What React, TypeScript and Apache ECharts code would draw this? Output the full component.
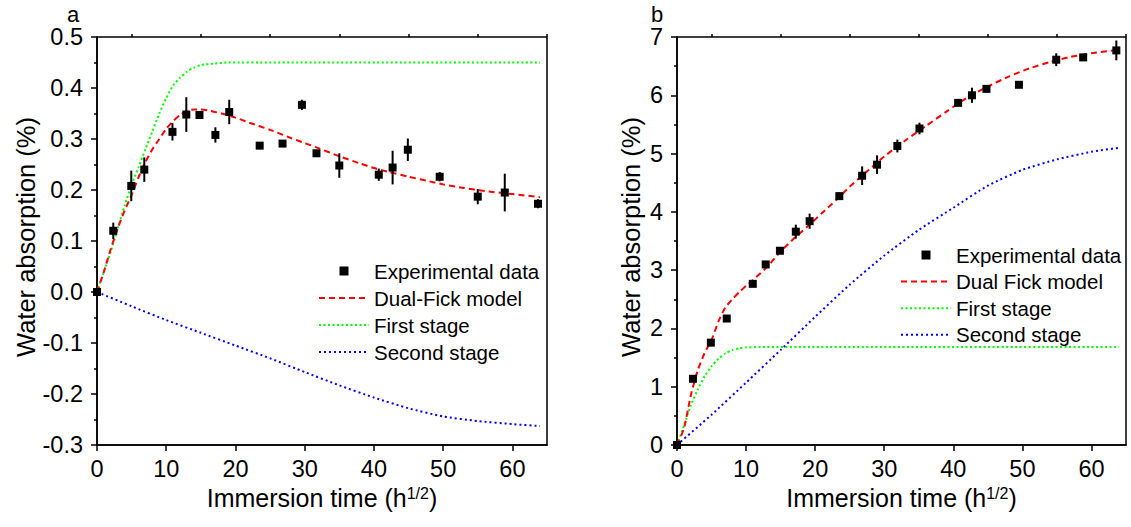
import React, { useEffect, useRef } from 'react';
import * as echarts from 'echarts';

const FONT = 'Arial, "Liberation Sans", Helvetica, sans-serif';

// Panel a: experimental data (x = sqrt(h), y = %, e = error half-width)
const xA = [0, 2.35, 4.95, 6.83, 10.9, 12.9, 14.8, 17.1, 19.1, 23.5, 26.8, 29.6, 31.7, 35.0, 40.7, 42.7, 44.9, 49.5, 55.0, 58.9, 63.7];
const yA = [0, 0.12, 0.208, 0.24, 0.314, 0.348, 0.347, 0.308, 0.353, 0.287, 0.291, 0.367, 0.272, 0.248, 0.23, 0.244, 0.279, 0.226, 0.187, 0.195, 0.173];
const eA = [0, 0.016, 0.03, 0.024, 0.017, 0.034, 0.004, 0.015, 0.024, 0.003, 0.003, 0.01, 0.003, 0.024, 0.012, 0.033, 0.022, 0.009, 0.015, 0.037, 0.009];

// Panel a: model curves
const dualFickA = [[0, 0], [1, 0.04], [2, 0.085], [3, 0.125], [4, 0.16], [5, 0.19], [6, 0.225], [7, 0.255], [8, 0.28], [9, 0.3], [10, 0.32], [11, 0.335], [12, 0.347], [13, 0.355], [14, 0.358], [15, 0.358], [16, 0.356], [18, 0.35], [20, 0.342], [22, 0.332], [25, 0.318], [28, 0.302], [30, 0.292], [32, 0.282], [35, 0.266], [38, 0.252], [40, 0.243], [42, 0.236], [45, 0.226], [48, 0.217], [50, 0.211], [53, 0.204], [56, 0.198], [60, 0.192], [64, 0.186]];
const firstA = [[0, 0], [1, 0.04], [2, 0.08], [3, 0.125], [4, 0.17], [5, 0.21], [6, 0.245], [7, 0.28], [8, 0.315], [9, 0.35], [10, 0.38], [11, 0.405], [12, 0.42], [13, 0.432], [14, 0.44], [15, 0.445], [17, 0.448], [19, 0.45], [25, 0.45], [64, 0.45]];
const secondA = [[0, 0], [5, -0.028], [10, -0.055], [15, -0.08], [20, -0.105], [25, -0.13], [30, -0.157], [35, -0.183], [40, -0.207], [45, -0.228], [50, -0.244], [55, -0.253], [60, -0.259], [64, -0.263]];

// Panel b: experimental data
const xB = [0, 2.31, 4.9, 7.2, 10.97, 12.84, 14.9, 17.2, 19.2, 23.5, 26.8, 28.96, 31.9, 35.1, 40.7, 42.7, 44.8, 49.5, 54.9, 58.8, 63.6];
const yB = [0, 1.136, 1.756, 2.17, 2.765, 3.098, 3.333, 3.66, 3.84, 4.27, 4.62, 4.81, 5.13, 5.43, 5.87, 6.0, 6.11, 6.18, 6.61, 6.65, 6.77];
const eB = [0, 0.03, 0.04, 0.04, 0.05, 0.03, 0.03, 0.12, 0.13, 0.06, 0.16, 0.16, 0.11, 0.1, 0.05, 0.13, 0.05, 0.02, 0.11, 0.03, 0.17];

// Panel b: model curves
const dualFickB = [[0, 0], [1, 0.28], [2, 0.85], [3, 1.28], [4, 1.58], [5, 1.8], [6, 2.12], [7, 2.36], [8, 2.5], [9, 2.62], [10, 2.73], [11, 2.83], [13, 3.05], [15, 3.32], [17, 3.55], [19, 3.76], [21, 3.98], [23, 4.2], [25, 4.43], [27, 4.64], [30, 4.95], [33, 5.22], [36, 5.47], [39, 5.72], [42, 5.96], [45, 6.15], [48, 6.32], [51, 6.46], [54, 6.57], [57, 6.66], [60, 6.72], [64, 6.78]];
const firstB = [[0, 0], [1, 0.33], [2, 0.68], [3, 0.95], [4, 1.18], [5, 1.35], [6, 1.48], [7, 1.57], [8, 1.63], [9, 1.66], [10, 1.675], [12, 1.68], [64, 1.68]];
const secondB = [[0, 0], [5, 0.52], [10, 1.07], [15, 1.63], [20, 2.2], [25, 2.75], [30, 3.25], [35, 3.69], [40, 4.07], [45, 4.45], [50, 4.72], [55, 4.9], [60, 5.03], [64, 5.1]];

// Ticks
const xMajorTicks = [0, 10, 20, 30, 40, 50, 60];
const xMinorTicks = [5, 15, 25, 35, 45, 55, 65];

const legendA = ['Experimental data', 'Dual-Fick model', 'First stage', 'Second stage'];
const legendB = ['Experimental data', 'Dual Fick model', 'First stage', 'Second stage'];

const SQUARE = 'path://M0 0H10V10H0Z';

function zip2(xs: number[], ys: number[]) {
  return xs.map((x, i) => [x, ys[i]]);
}
function zip3(xs: number[], ys: number[], es: number[]) {
  return xs.map((x, i) => [x, ys[i], es[i]]);
}

const axisLineStyle = { color: '#000', width: 1.5 };

function xMain(gridIndex: number) {
  return {
    type: 'value', gridIndex, min: 0, max: 65,
    axisLine: { show: true, onZero: false, lineStyle: axisLineStyle },
    axisTick: { show: true, inside: false, length: 6, customValues: xMajorTicks, lineStyle: axisLineStyle },
    axisLabel: { show: true, customValues: xMajorTicks, color: '#000', fontSize: 23.5, margin: 12, fontFamily: FONT },
    splitLine: { show: false },
    name: '{t|Immersion time (h}{s|1/2}{t|)}',
    nameLocation: 'middle',
    nameGap: 39,
    nameTextStyle: {
      color: '#000', fontFamily: FONT,
      rich: {
        t: { fontSize: 25, fontFamily: FONT, color: '#000', lineHeight: 25, verticalAlign: 'bottom' },
        s: { fontSize: 16, fontFamily: FONT, color: '#000', lineHeight: 16, verticalAlign: 'top', padding: [0, 0, 12, 0] },
      },
    },
  };
}
function xMinor(gridIndex: number) {
  return {
    type: 'value', gridIndex, min: 0, max: 65,
    axisLine: { show: false, onZero: false },
    axisTick: { show: true, inside: false, length: 3, customValues: xMinorTicks, lineStyle: axisLineStyle },
    axisLabel: { show: false },
    splitLine: { show: false },
  };
}
function yAxisCfg(gridIndex: number, min: number, max: number, interval: number, digits: number, gap: number) {
  return {
    type: 'value', gridIndex, min, max, interval,
    axisLine: { show: true, onZero: false, lineStyle: axisLineStyle },
    axisTick: { show: true, inside: false, length: 6, lineStyle: axisLineStyle },
    minorTick: { show: true, splitNumber: 2, length: 3, lineStyle: axisLineStyle },
    axisLabel: { color: '#000', fontSize: 23.5, margin: 14, fontFamily: FONT, formatter: (v: number) => v.toFixed(digits) },
    splitLine: { show: false },
    name: 'Water absorption (%)',
    nameLocation: 'middle',
    nameRotate: 90,
    nameGap: gap,
    nameTextStyle: { color: '#000', fontSize: 25.5, fontFamily: FONT, padding: [0, 0, 0, 8] },
  };
}

function errorSeries(name: string, xi: number, yi: number, data: number[][]) {
  return {
    type: 'custom', name, xAxisIndex: xi, yAxisIndex: yi, data, z: 4,
    encode: { x: 0, y: 1 },
    renderItem: (_p: any, api: any) => {
      const x = api.value(0), y = api.value(1), e = api.value(2);
      const t = api.coord([x, y + e]);
      const b = api.coord([x, y - e]);
      return { type: 'line', shape: { x1: t[0], y1: t[1], x2: b[0], y2: b[1] }, style: { stroke: '#000', lineWidth: 2 } };
    },
  };
}
function scatterSeries(xi: number, yi: number, data: number[][]) {
  return {
    type: 'scatter', name: 'Experimental data', xAxisIndex: xi, yAxisIndex: yi, data,
    symbol: 'rect', symbolSize: 8, itemStyle: { color: '#000', opacity: 1 }, z: 5,
  };
}
function lineSeries(name: string, xi: number, yi: number, data: number[][], color: string, dash: number[]) {
  return {
    type: 'line', name, xAxisIndex: xi, yAxisIndex: yi, data, symbol: 'none', smooth: 0.2,
    lineStyle: { color, width: 2, type: dash }, itemStyle: { color }, z: 3,
  };
}

function legendCfg(left: number, top: number, gap: number, names: string[]) {
  return {
    orient: 'vertical', left, top, padding: 0, itemWidth: 50, itemHeight: 9, itemGap: gap,
    selectedMode: false,
    textStyle: { fontSize: 20.5, color: '#000', fontFamily: FONT },
    data: names.map((n, i) => (i === 0 ? { name: n, icon: SQUARE, itemStyle: { opacity: 1 } } : { name: n, itemStyle: { opacity: 0 } })),
  };
}

const option: any = {
  animation: false,
  backgroundColor: '#fff',
  textStyle: { fontFamily: FONT },
  grid: [
    { left: 97, top: 37, width: 450, height: 408, show: true, borderColor: '#000', borderWidth: 1.5, backgroundColor: 'transparent' },
    { left: 677, top: 37, width: 449, height: 408, show: true, borderColor: '#000', borderWidth: 1.5, backgroundColor: 'transparent' },
  ],
  xAxis: [xMain(0), xMinor(0), xMain(1), xMinor(1)],
  yAxis: [yAxisCfg(0, -0.3, 0.5, 0.1, 1, 57), yAxisCfg(1, 0, 7, 1, 0, 33)],
  legend: [legendCfg(318, 260.5, 6, legendA), legendCfg(900, 244.5, 5.6, legendB)],
  graphic: [
    { type: 'text', left: 67, top: 3, style: { text: 'a', fontSize: 22, fontFamily: FONT, fill: '#000' } },
    { type: 'text', left: 651, top: 3, style: { text: 'b', fontSize: 22, fontFamily: FONT, fill: '#000' } },
  ],
  series: [
    lineSeries('First stage', 0, 0, firstA, '#00ff00', [2, 2.5]),
    lineSeries('Second stage', 0, 0, secondA, '#0000ff', [2, 3]),
    lineSeries('Dual-Fick model', 0, 0, dualFickA, '#ff0000', [6, 4]),
    errorSeries('errA', 0, 0, zip3(xA, yA, eA)),
    scatterSeries(0, 0, zip2(xA, yA)),
    lineSeries('First stage', 2, 1, firstB, '#00ff00', [2, 2.5]),
    lineSeries('Second stage', 2, 1, secondB, '#0000ff', [2, 3]),
    lineSeries('Dual Fick model', 2, 1, dualFickB, '#ff0000', [6, 4]),
    errorSeries('errB', 2, 1, zip3(xB, yB, eB)),
    scatterSeries(2, 1, zip2(xB, yB)),
  ],
};

export default function App() {
  const ref = useRef<HTMLDivElement>(null);
  useEffect(() => {
    const chart = echarts.init(ref.current as HTMLDivElement, null, { renderer: 'svg' });
    chart.setOption(option);
    return () => chart.dispose();
  }, []);
  return <div ref={ref} style={{ position: 'fixed', left: 0, top: 0, width: 1131, height: 527, background: '#fff' }} />;
}
